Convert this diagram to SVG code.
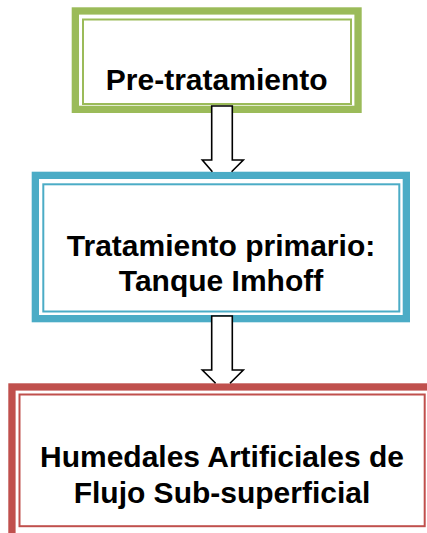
<svg xmlns="http://www.w3.org/2000/svg" width="427" height="533" viewBox="0 0 427 533">
<style>
.band{fill:#fff;stroke-width:7.3}
.thin{fill:none;stroke-width:2}
.g{stroke:#9BBB59}
.b{stroke:#4BACC6}
.r{stroke:#C0504D}
.lbl{font-family:"Liberation Sans",Arial,sans-serif;font-weight:bold;font-size:30px;fill:#000;text-anchor:middle}
.arrow{fill:#fff;stroke:#000;stroke-width:1.6;stroke-linejoin:miter}
</style>
<rect width="427" height="533" fill="#fff"/>
<g id="node-pretratamiento">
<rect class="band g" x="75.35" y="10.95" width="282.7" height="98.4"/>
<rect class="thin g" x="83" y="19.5" width="268" height="84.5"/>
<text class="lbl" x="216.7" y="90">Pre-tratamiento</text>
</g>
<g id="node-primario">
<rect class="band b" x="35.35" y="175.35" width="371" height="143.3"/>
<rect class="thin b" x="43.3" y="184.3" width="356" height="127.2"/>
<text class="lbl" x="221" y="256">Tratamiento primario:</text>
<text class="lbl" x="221" y="291">Tanque Imhoff</text>
</g>
<g id="node-humedales">
<rect class="band r" x="11.95" y="386.95" width="424" height="150"/>
<rect class="thin r" x="19.5" y="394.5" width="405.2" height="131.7"/>
<text class="lbl" x="222" y="466.7">Humedales Artificiales de</text>
<text class="lbl" x="222" y="503.3">Flujo Sub-superficial</text>
</g>
<g id="connectors">
<path class="arrow" d="M212.4 171.7 L202.3 160 H211.7 V106 H232.3 V160 H243.3 L231.6 171.7"/>
<path class="arrow" d="M215.6 383.3 L202.3 370 H211.7 V316 H232.3 V370 H243.3 L230 383.3"/>
</g>
</svg>
